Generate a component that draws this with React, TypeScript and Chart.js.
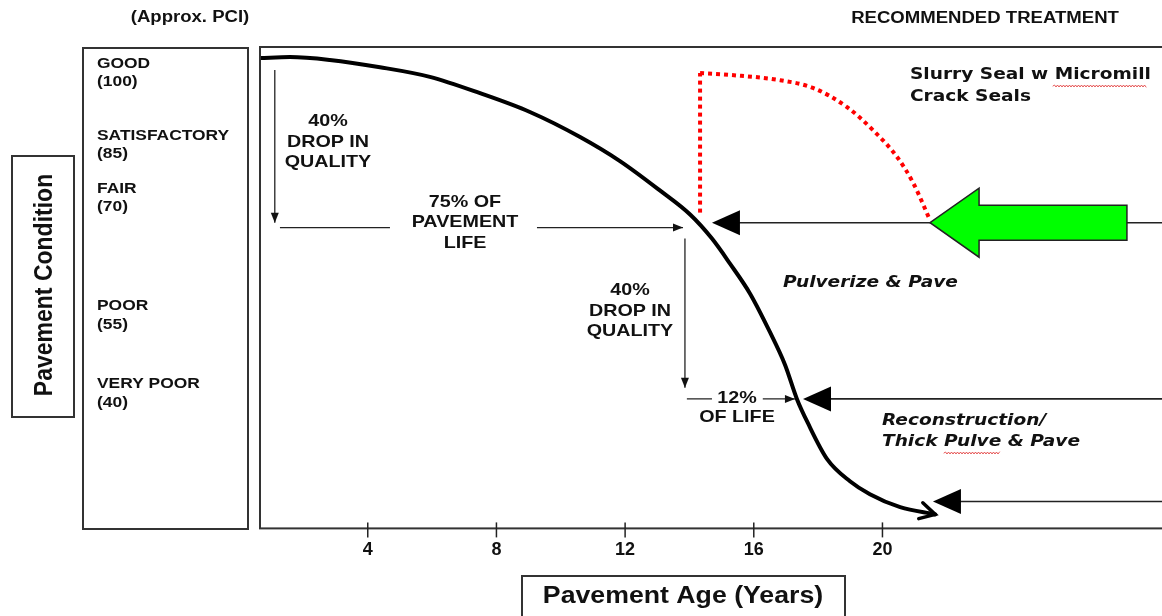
import React, { useEffect, useRef } from "react";
import { Chart, registerables } from "chart.js";

Chart.register(...registerables);

// ---- data ----
const xTicks = [4, 8, 12, 16, 20];
const ageMin = 0.65;
const ageMax = 28.69;
const condMin = 0;
const condMax = 100;

const conditionNames = ["GOOD", "SATISFACTORY", "FAIR", "POOR", "VERY POOR"];
const conditionPCI = ["(100)", "(85)", "(70)", "(55)", "(40)"];

const curveAge = [0.65, 1.58, 2.82, 4.38, 5.93, 7.49, 9.04, 10.6, 11.84, 13.08, 14.02, 14.7, 15.26, 15.88, 16.5, 16.97, 17.34, 17.68, 18.28, 18.99, 19.61, 20.55, 21.64];
const curveCond = [97.7, 97.9, 97.3, 95.8, 93.8, 90.4, 86.5, 81.3, 76.3, 70.2, 65.2, 60.2, 55.0, 48.8, 40.8, 34.0, 26.9, 21.9, 14.4, 9.8, 7.1, 4.4, 2.9];

const sealRiseAge = [14.33, 14.33];
const sealRiseCond = [65.6, 94.6];
const sealAge = [14.33, 15.26, 16.82, 17.84, 18.9, 19.71, 20.46, 20.96, 21.48];
const sealCond = [94.6, 94.2, 93.1, 91.5, 87.5, 82.7, 77.1, 71.7, 64.0];

const treatmentLevel = [63.5, 26.9, 5.6];
const treatmentStart = [14.7, 17.53, 21.57];
const greenTipAge = 21.48;
const greenTailAge = 27.6;
const greenLevel = 63.5;

const dropAge = [1.11, 13.86];
const dropTop = [95.2, 60.2];
const dropBottom = [63.5, 29.2];
const spanLevel = [62.5, 26.9];
const spanLeftStart = [1.27, 13.92];
const spanLeftEnd = [4.69, 14.7];
const spanRightStart = [9.26, 16.28];
const spanRightEnd = [13.8, 17.28];

// ---- styles ----
const ARIAL = '"Liberation Sans", Arial, sans-serif';
const VERDANA = '"DejaVu Sans", Verdana, sans-serif';
const SX = 1.16;

function txt(ctx: CanvasRenderingContext2D, s: string, x: number, y: number, font: string, align: CanvasTextAlign = "center") {
  ctx.save();
  ctx.font = font;
  ctx.fillStyle = "#111";
  ctx.textBaseline = "middle";
  ctx.textAlign = align;
  ctx.translate(x, y);
  ctx.scale(SX, 1);
  ctx.fillText(s, 0, 0);
  ctx.restore();
}

function squiggle(ctx: CanvasRenderingContext2D, x1: number, x2: number, y: number) {
  ctx.save();
  ctx.strokeStyle = "#e03030";
  ctx.lineWidth = 0.8;
  ctx.beginPath();
  let up = true;
  ctx.moveTo(x1, y);
  for (let x = x1 + 1.5; x <= x2; x += 1.5) {
    ctx.lineTo(x, up ? y - 1 : y + 1);
    up = !up;
  }
  ctx.stroke();
  ctx.restore();
}

const decor = {
  id: "decor",
  afterDatasetsDraw(chart: any) {
    const ctx: CanvasRenderingContext2D = chart.ctx;
    const xs = chart.scales.x;
    const ys = chart.scales.y;
    const ca = chart.chartArea;
    const X = (v: number) => xs.getPixelForValue(v);
    const Y = (v: number) => ys.getPixelForValue(v);
    ctx.save();

    // frames
    ctx.strokeStyle = "#333";
    ctx.lineWidth = 2;
    ctx.strokeRect(ca.left, ca.top, ca.right - ca.left + 20, ca.bottom - ca.top);
    ctx.strokeRect(83, 48, 165, 481);
    ctx.strokeRect(12, 156, 62, 261);
    ctx.strokeRect(522, 576, 323, 60);

    // x tick marks
    ctx.strokeStyle = "#222";
    ctx.lineWidth = 1.5;
    for (const t of xTicks) {
      const px = X(t);
      ctx.beginPath();
      ctx.moveTo(px, ca.bottom - 6);
      ctx.lineTo(px, ca.bottom + 9);
      ctx.stroke();
    }

    // treatment arrowheads
    ctx.fillStyle = "#000";
    for (let i = 0; i < treatmentLevel.length; i++) {
      const tx = X(treatmentStart[i]);
      const ty = Y(treatmentLevel[i]);
      ctx.beginPath();
      ctx.moveTo(tx, ty);
      ctx.lineTo(tx + 28, ty - 12.5);
      ctx.lineTo(tx + 28, ty + 12.5);
      ctx.closePath();
      ctx.fill();
    }

    // green arrow
    {
      const tx = X(greenTipAge);
      const ty = Y(greenLevel);
      const tail = X(greenTailAge);
      ctx.beginPath();
      ctx.moveTo(tx, ty);
      ctx.lineTo(tx + 49, ty - 34.5);
      ctx.lineTo(tx + 49, ty - 17.5);
      ctx.lineTo(tail, ty - 17.5);
      ctx.lineTo(tail, ty + 17.5);
      ctx.lineTo(tx + 49, ty + 17.5);
      ctx.lineTo(tx + 49, ty + 34.5);
      ctx.closePath();
      ctx.fillStyle = "#00ff00";
      ctx.fill();
      ctx.strokeStyle = "#222";
      ctx.lineWidth = 1.5;
      ctx.stroke();
    }

    // small arrowheads on annotation arrows
    ctx.fillStyle = "#111";
    for (let i = 0; i < dropAge.length; i++) {
      const px = X(dropAge[i]);
      const py = Y(dropBottom[i]);
      ctx.beginPath();
      ctx.moveTo(px, py);
      ctx.lineTo(px - 4, py - 10);
      ctx.lineTo(px + 4, py - 10);
      ctx.closePath();
      ctx.fill();
    }
    for (let i = 0; i < spanLevel.length; i++) {
      const px = X(spanRightEnd[i]);
      const py = Y(spanLevel[i]);
      ctx.beginPath();
      ctx.moveTo(px, py);
      ctx.lineTo(px - 10, py - 4);
      ctx.lineTo(px - 10, py + 4);
      ctx.closePath();
      ctx.fill();
    }

    // open arrowhead at the end of the deterioration curve
    {
      const n = curveAge.length;
      const x2 = X(curveAge[n - 1]);
      const y2 = Y(curveCond[n - 1]);
      const x1 = X(curveAge[n - 2]);
      const y1 = Y(curveCond[n - 2]);
      const a = Math.atan2(y2 - y1, x2 - x1) + 0.05;
      const L = 17;
      ctx.strokeStyle = "#000";
      ctx.lineWidth = 3.5;
      ctx.lineCap = "round";
      ctx.beginPath();
      ctx.moveTo(x2 - L * Math.cos(a - 0.5), y2 - L * Math.sin(a - 0.5));
      ctx.lineTo(x2, y2);
      ctx.lineTo(x2 - L * Math.cos(a + 0.5), y2 - L * Math.sin(a + 0.5));
      ctx.stroke();
    }

    // texts outside plot
    const b15 = `bold 15px ${ARIAL}`;
    const b16 = `bold 16px ${ARIAL}`;
    txt(ctx, "(Approx. PCI)", 190, 18, b16);
    txt(ctx, "RECOMMENDED TREATMENT", 985, 19, b16);
    const nameY = [64, 136, 189, 306, 384];
    const pciY = [82, 154, 207, 325, 403];
    for (let i = 0; i < conditionNames.length; i++) {
      txt(ctx, conditionNames[i], 97, nameY[i], b15, "left");
      txt(ctx, conditionPCI[i], 97, pciY[i], b15, "left");
    }
    // rotated axis title
    ctx.save();
    ctx.translate(45, 285);
    ctx.scale(1.12, 1);
    ctx.rotate(-Math.PI / 2);
    ctx.font = `bold 23px ${ARIAL}`;
    ctx.fillStyle = "#111";
    ctx.textAlign = "center";
    ctx.textBaseline = "middle";
    ctx.fillText("Pavement Condition", 0, 0);
    ctx.restore();
    txt(ctx, "Pavement Age (Years)", 683, 597, `bold 23px ${ARIAL}`);

    // texts in plot
    const b17 = `bold 17px ${ARIAL}`;
    txt(ctx, "40%", 328, 121, b17);
    txt(ctx, "DROP IN", 328, 142, b17);
    txt(ctx, "QUALITY", 328, 162, b17);
    txt(ctx, "75% OF", 465, 202, b17);
    txt(ctx, "PAVEMENT", 465, 222, b17);
    txt(ctx, "LIFE", 465, 243, b17);
    txt(ctx, "40%", 630, 290, b17);
    txt(ctx, "DROP IN", 630, 311, b17);
    txt(ctx, "QUALITY", 630, 331, b17);
    txt(ctx, "12%", 737, 398, b17);
    txt(ctx, "OF LIFE", 737, 417, b17);

    const v16 = `bold 16px ${VERDANA}`;
    const vi16 = `italic bold 16px ${VERDANA}`;
    txt(ctx, "Slurry Seal w Micromill", 910, 75, v16, "left");
    txt(ctx, "Crack Seals", 910, 97, v16, "left");
    txt(ctx, "Pulverize & Pave", 783, 283, vi16, "left");
    txt(ctx, "Reconstruction/", 882, 421, vi16, "left");
    txt(ctx, "Thick Pulve & Pave", 882, 442, vi16, "left");
    squiggle(ctx, 1053, 1147, 86);
    squiggle(ctx, 944, 1000, 453);

    ctx.restore();
  },
};

function seg(x: number[], y: number[], color: string, width: number, extra: any = {}) {
  return {
    data: x.map((v, i) => ({ x: v, y: y[i] })),
    borderColor: color,
    borderWidth: width,
    pointRadius: 0,
    fill: false,
    tension: 0,
    ...extra,
  };
}

export default function App() {
  const ref = useRef<HTMLCanvasElement | null>(null);
  useEffect(() => {
    if (!ref.current) return;
    const datasets: any[] = [];
    // treatment lines
    for (let i = 0; i < treatmentLevel.length; i++) {
      datasets.push(seg([treatmentStart[i] + 0.5, ageMax], [treatmentLevel[i], treatmentLevel[i]], "#222", 1.6));
    }
    // annotation arrows
    for (let i = 0; i < dropAge.length; i++) {
      datasets.push(seg([dropAge[i], dropAge[i]], [dropTop[i], dropBottom[i]], "#222", 1.3));
      datasets.push(seg([spanLeftStart[i], spanLeftEnd[i]], [spanLevel[i], spanLevel[i]], "#222", 1.3));
      datasets.push(seg([spanRightStart[i], spanRightEnd[i]], [spanLevel[i], spanLevel[i]], "#222", 1.3));
    }
    // seal restoration (red dotted)
    datasets.push(seg(sealRiseAge, sealRiseCond, "#ff0000", 4, { borderDash: [4, 4], borderCapStyle: "butt" }));
    datasets.push(seg(sealAge, sealCond, "#ff0000", 4, { borderDash: [4, 4], borderCapStyle: "butt", cubicInterpolationMode: "monotone" }));
    // deterioration curve
    datasets.push(seg(curveAge, curveCond, "#000", 4, { cubicInterpolationMode: "monotone", borderCapStyle: "round" }));

    const chart = new Chart(ref.current, {
      type: "line",
      data: { datasets },
      options: {
        animation: false,
        responsive: false,
        maintainAspectRatio: false,
        events: [],
        layout: { padding: { left: 260, top: 47, right: 0, bottom: 44 } },
        plugins: { legend: { display: false }, tooltip: { enabled: false } },
        scales: {
          x: {
            type: "linear",
            min: ageMin,
            max: ageMax,
            afterBuildTicks: (s: any) => {
              s.ticks = xTicks.map((v) => ({ value: v }));
            },
            grid: { display: false, drawTicks: false },
            border: { display: false },
            ticks: {
              color: "#111",
              padding: 11,
              autoSkip: false,
              maxRotation: 0,
              font: { family: ARIAL, weight: "bold", size: 18 },
            },
          },
          y: { type: "linear", display: false, min: condMin, max: condMax },
        },
      },
      plugins: [decor],
    });
    return () => chart.destroy();
  }, []);

  return (
    <div style={{ position: "absolute", left: 0, top: 0, width: 1162, height: 616, background: "#fff" }}>
      <canvas ref={ref} width={1162} height={616} style={{ display: "block" }} />
    </div>
  );
}
